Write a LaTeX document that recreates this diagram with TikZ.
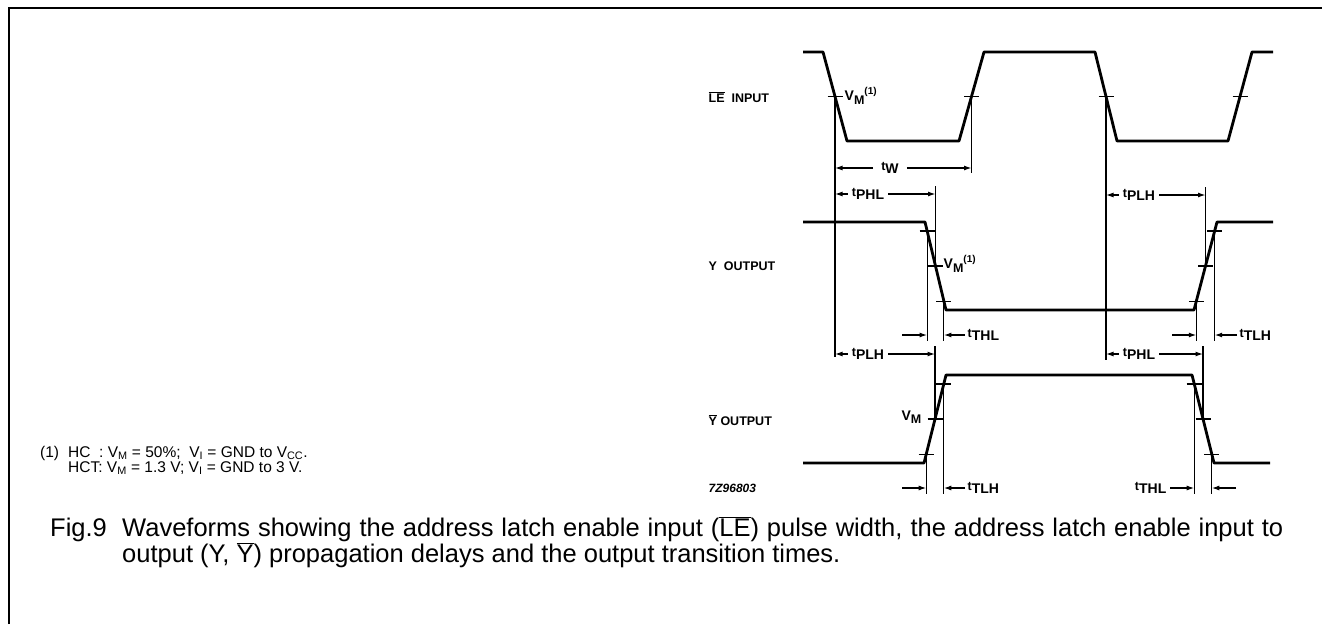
\documentclass[tikz,border=0pt]{standalone}
\usepackage{fontspec}
\setmainfont{Liberation Sans}
\usetikzlibrary{arrows.meta}
\newcommand{\ovl}[1]{\ensuremath{\overline{\mbox{#1}}}}
\newcommand{\tlab}[1]{{\fontsize{12.5}{13}\selectfont t}\raisebox{-3.5pt}{\fontsize{14}{15}\selectfont #1}}
\newcommand{\vmsym}{{\fontsize{14}{16}\selectfont V}\raisebox{-3.5pt}{M}}
\newcommand{\vmone}{\vmsym\raisebox{6pt}{\fontsize{10}{11}\selectfont(1)}}
\begin{document}
\begin{tikzpicture}[x=1pt,y=-1pt,
  wave/.style={line width=2.8pt,line join=round},
  guide/.style={line width=1.1pt},
  tickmark/.style={line width=1.4pt},
  arr/.style={line width=1.2pt,-{Latex[length=7.5pt,width=5pt]}},
  lbl/.style={font=\fontsize{12.5}{14}\selectfont\bfseries,inner sep=1.5pt},
  dimlbl/.style={lbl,inner xsep=4pt},
  captext/.style={font=\fontsize{25.5}{30}\selectfont,inner sep=0pt,anchor=base west},
  notetext/.style={font=\fontsize{15.5}{18}\selectfont,inner sep=0pt,anchor=base west}]
\useasboundingbox (0,0) rectangle (1322,624);
% frame
\draw[line width=1.5pt] (9,624) -- (9,8) -- (1322,8);
% waveforms
\draw[wave] (803,52) -- (823,52) -- (847,141) -- (959,141) -- (984,52) -- (1095,52) -- (1117,141) -- (1228,141) -- (1252,52) -- (1273,52);
\draw[wave] (803,222) -- (925,222) -- (946,310) -- (1194,310) -- (1217,222) -- (1273,222);
\draw[wave] (803,463) -- (924,463) -- (946,375) -- (1192,375) -- (1214,463) -- (1270,463);
% crossing points
\coordinate (le1) at (835,96.5);
\coordinate (le2) at (971.5,96.5);
\coordinate (le3) at (1106,96.5);
\coordinate (le4) at (1240,96.5);
\coordinate (ya9) at (927.1,230.8);
\coordinate (ya5) at (935.5,266);
\coordinate (ya1) at (943.9,301.2);
\coordinate (yb1) at (1196.3,301.2);
\coordinate (yb5) at (1205.5,266);
\coordinate (yb9) at (1214.7,230.8);
\coordinate (na1) at (926.2,454.2);
\coordinate (na5) at (935,419);
\coordinate (na9) at (943.8,383.8);
\coordinate (nb9) at (1194.2,383.8);
\coordinate (nb5) at (1203,419);
\coordinate (nb1) at (1211.8,454.2);
\foreach \p in {le1,le2,le3,le4,ya9,ya5,ya1,yb1,yb5,yb9,na1,na5,na9,nb9,nb5,nb1}
  \draw[tickmark] ([xshift=-7.5pt]\p) -- ([xshift=7.5pt]\p);
% guide lines
\draw[guide] (le1) -- (835,357);
\draw[guide] (le2) -- (971.5,173);
\draw[guide] (le3) -- (1106,360);
\draw[guide] (935.5,186) -- (ya5);
\draw[guide] (1205.5,187) -- (yb5);
\draw[guide] (ya9) -- (927.1,341);
\draw[guide] (ya1) -- (943.9,341);
\draw[guide] (yb1) -- (1196.3,341);
\draw[guide] (yb9) -- (1214.7,341);
\draw[guide] (935,346) -- (na5);
\draw[guide] (1203,346) -- (nb5);
\draw[guide] (na1) -- (926.2,494);
\draw[guide] (na9) -- (943.8,494);
\draw[guide] (nb9) -- (1194.2,494);
\draw[guide] (nb1) -- (1211.8,494);
% dimension rows between lines
\node[dimlbl,inner xsep=8pt] (tw) at (890,168) {\tlab{W}};
\draw[arr] (tw.west) -- (835,168); \draw[arr] (tw.east) -- (971.5,168);
\node[dimlbl] (tphla) at (868,194) {\tlab{PHL}};
\draw[arr] (tphla.west) -- (835,194); \draw[arr] (tphla.east) -- (935.5,194);
\node[dimlbl] (tplha) at (1139,195) {\tlab{PLH}};
\draw[arr] (tplha.west) -- (1106,195); \draw[arr] (tplha.east) -- (1205.5,195);
\node[dimlbl] (tplhb) at (868,354) {\tlab{PLH}};
\draw[arr] (tplhb.west) -- (835,354); \draw[arr] (tplhb.east) -- (935,354);
\node[dimlbl] (tphlb) at (1139,354) {\tlab{PHL}};
\draw[arr] (tphlb.west) -- (1106,354); \draw[arr] (tphlb.east) -- (1203,354);
% transition-time rows (arrows from outside)
\draw[arr] (902,335) -- (927.1,335); \draw[arr] (965,335) -- (943.9,335);
\node[lbl,anchor=west] (tthla) at (966,335) {\tlab{THL}};
\draw[arr] (1172,335) -- (1196.3,335); \draw[arr] (1237,335) -- (1214.7,335);
\node[lbl,anchor=west] (ttlha) at (1238,335) {\tlab{TLH}};
\draw[arr] (902,488) -- (926.2,488); \draw[arr] (965,488) -- (943.8,488);
\node[lbl,anchor=west] (ttlhb) at (966,488) {\tlab{TLH}};
\draw[arr] (1170,488) -- (1194.2,488); \draw[arr] (1236,488) -- (1211.8,488);
\node[lbl,anchor=east] (tthlb) at (1168,488) {\tlab{THL}};
% V_M labels
\node[lbl,anchor=west] (vma) at (843,96) {\vmone};
\node[lbl,anchor=west] (vmb) at (942,264) {\vmone};
\node[lbl,anchor=east] (vmc) at (923,417) {\vmsym};
% signal names
\node[lbl,anchor=west] (lein) at (707,97) {\ovl{LE}\ \ INPUT};
\node[lbl,anchor=west] (yout) at (707,266) {Y\ \ OUTPUT};
\node[lbl,anchor=west] (ybout) at (707,420) {\ovl{Y} OUTPUT};
\node[lbl,anchor=west,font=\fontsize{12}{13}\selectfont\bfseries\itshape] (code) at (707,488) {7Z96803};
% footnote
\node[notetext] (fn1) at (40,457) {(1)};
\node[notetext] (fn2) at (68,457) {HC\ \ : V\textsubscript{M} = 50\%;\ \ V\textsubscript{I} = GND to V\textsubscript{CC}.};
\node[notetext] (fn3) at (68,472) {HCT: V\textsubscript{M} = 1.3 V; V\textsubscript{I} = GND to 3 V.};
% caption
\node[captext] (fig) at (50,536) {Fig.9};
\node[captext] (cap1) at (122,536) {\makebox[1161pt][s]{Waveforms showing the address latch enable input (\ovl{LE}) pulse width, the address latch enable input to}};
\node[captext] (cap2) at (122,562) {output (Y, \ovl{Y}) propagation delays and the output transition times.};
\end{tikzpicture}
\end{document}
